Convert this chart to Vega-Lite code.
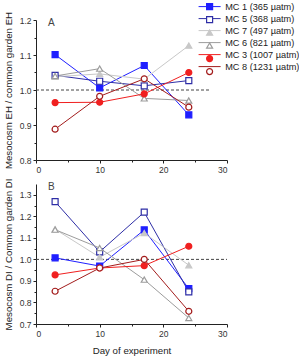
{
  "$schema": "https://vega.github.io/schema/vega-lite/v6.json",
  "autosize": {"type": "pad"},
  "padding": {"left": 3, "top": 2, "right": 0, "bottom": 0},
  "spacing": 24,
  "bounds": "flush",
  "config": {
    "view": {"stroke": null},
    "font": "Liberation Sans",
    "axis": {
      "grid": false,
      "domainColor": "#222",
      "tickColor": "#222",
      "tickSize": 3,
      "labelOverlap": false,
      "labelFont": "Liberation Sans",
      "labelFontSize": 8.5,
      "labelColor": "#333",
      "labelPadding": 2,
      "titleFont": "Liberation Sans",
      "titleFontSize": 9.7,
      "titleFontWeight": "normal",
      "titleColor": "#222"
    },
    "legend": {
      "padding": 0
    }
  },
  "vconcat": [
    {
      "width": 191,
      "height": 140,
      "resolve": {"axis": {"x": "independent", "y": "independent"}},
      "data": {"values": [
        {"series": "MC 1 (365 µatm)", "label": "MC 1 (365 µatm)", "day": 3, "value": 1.101},
        {"series": "MC 1 (365 µatm)", "label": "MC 1 (365 µatm)", "day": 10, "value": 1.006},
        {"series": "MC 1 (365 µatm)", "label": "MC 1 (365 µatm)", "day": 17, "value": 1.070},
        {"series": "MC 1 (365 µatm)", "label": "MC 1 (365 µatm)", "day": 24, "value": 0.929},
        {"series": "MC 5 (368 µatm)", "label": "MC 5 (368 µatm)", "day": 3, "value": 1.042},
        {"series": "MC 5 (368 µatm)", "label": "MC 5 (368 µatm)", "day": 10, "value": 1.025},
        {"series": "MC 5 (368 µatm)", "label": "MC 5 (368 µatm)", "day": 17, "value": 1.012},
        {"series": "MC 5 (368 µatm)", "label": "MC 5 (368 µatm)", "day": 24, "value": 1.027},
        {"series": "MC 7 (497 µatm)", "label": "MC 7 (497 µatm)", "day": 3, "value": 1.038},
        {"series": "MC 7 (497 µatm)", "label": "MC 7 (497 µatm)", "day": 10, "value": 1.046},
        {"series": "MC 7 (497 µatm)", "label": "MC 7 (497 µatm)", "day": 17, "value": 1.031},
        {"series": "MC 7 (497 µatm)", "label": "MC 7 (497 µatm)", "day": 24, "value": 1.127},
        {"series": "MC 6 (821 µatm)", "label": "MC 6 (821 µatm)", "day": 3, "value": 1.040},
        {"series": "MC 6 (821 µatm)", "label": "MC 6 (821 µatm)", "day": 10, "value": 1.061},
        {"series": "MC 6 (821 µatm)", "label": "MC 6 (821 µatm)", "day": 17, "value": 0.976},
        {"series": "MC 6 (821 µatm)", "label": "MC 6 (821 µatm)", "day": 24, "value": 0.970},
        {"series": "MC 3 (1007 µatm)", "label": "MC 3 (1007 µatm)", "day": 3, "value": 0.964},
        {"series": "MC 3 (1007 µatm)", "label": "MC 3 (1007 µatm)", "day": 10, "value": 0.965},
        {"series": "MC 3 (1007 µatm)", "label": "MC 3 (1007 µatm)", "day": 17, "value": 0.989},
        {"series": "MC 3 (1007 µatm)", "label": "MC 3 (1007 µatm)", "day": 24, "value": 1.050},
        {"series": "MC 8 (1231 µatm)", "label": "MC 8 (1231 µatm)", "day": 3, "value": 0.888},
        {"series": "MC 8 (1231 µatm)", "label": "MC 8 (1231 µatm)", "day": 10, "value": 0.982},
        {"series": "MC 8 (1231 µatm)", "label": "MC 8 (1231 µatm)", "day": 17, "value": 1.032},
        {"series": "MC 8 (1231 µatm)", "label": "MC 8 (1231 µatm)", "day": 24, "value": 0.951}
      ]},
      "layer": [
        {
          "data": {"values": [{"x": 0, "x2": 27.2, "y": 1.0}]},
          "mark": {"type": "rule", "strokeDash": [3, 2], "color": "#444", "strokeWidth": 1},
          "encoding": {
            "x": {"field": "x", "type": "quantitative", "axis": {"values": [5, 15, 25], "labels": false, "domain": false, "tickSize": 2, "title": null, "orient": "bottom"}},
            "x2": {"field": "x2"},
            "y": {"field": "y", "type": "quantitative", "axis": {"values": [0.85, 0.95, 1.05, 1.15], "labels": false, "domain": false, "tickSize": 2, "title": null, "orient": "left"}}
          }
        },
        {
          "data": {"values": [{"x": 1.9, "y": 1.191, "t": "A"}]},
          "mark": {"type": "text", "align": "left", "baseline": "middle", "fontSize": 10, "color": "#444"},
          "encoding": {
            "x": {"field": "x", "type": "quantitative", "axis": null},
            "y": {"field": "y", "type": "quantitative", "axis": null},
            "text": {"field": "t"}
          }
        },
        {
          "mark": {"type": "line", "strokeWidth": 1},
          "encoding": {
            "x": {"field": "day", "type": "quantitative", "scale": {"domain": [0, 30]}, "axis": {"values": [0, 10, 20, 30], "title": null, "orient": "bottom"}},
            "y": {"field": "value", "type": "quantitative", "scale": {"domain": [0.8, 1.2], "nice": false, "zero": false}, "axis": {"values": [0.8, 0.9, 1.0, 1.1, 1.2], "format": ".1f", "title": "Mesocosm EH / common garden EH", "titlePadding": 6, "orient": "left"}},
            "color": {
              "field": "label", "type": "nominal",
              "sort": ["MC 1 (365 µatm)", "MC 5 (368 µatm)", "MC 7 (497 µatm)", "MC 6 (821 µatm)", "MC 3 (1007 µatm)", "MC 8 (1231 µatm)"],
              "scale": {"range": ["#1f1fff", "#2e2ea6", "#c8c8c8", "#9c9c9c", "#f02020", "#a31c1c"]},
              "legend": {
                "title": null,
                "orient": "none",
                "legendX": 169,
                "legendY": -18,
                "labelFont": "Liberation Sans",
                "labelFontSize": 9.2,
                "labelColor": "#222",
                "labelOffset": 11,
                "rowPadding": 2,
                "symbolType": "M-3.67,0H3.67",
                "symbolSize": 36,
                "symbolStrokeWidth": 1
              }
            },
            "detail": {"field": "label"}
          }
        },
        {
          "mark": {"type": "point", "filled": true, "size": 36, "strokeWidth": 1.2, "opacity": 1},
          "encoding": {
            "x": {"field": "day", "type": "quantitative", "axis": null},
            "y": {"field": "value", "type": "quantitative", "axis": null},
            "shape": {
              "field": "series", "type": "nominal",
              "scale": {
                "domain": ["MC 1 (365 µatm)", "MC 5 (368 µatm)", "MC 7 (497 µatm)", "MC 6 (821 µatm)", "MC 3 (1007 µatm)", "MC 8 (1231 µatm)"],
                "range": ["square", "square", "triangle-up", "triangle-up", "circle", "circle"]
              },
              "legend": {
                "title": null, "orient": "none", "legendX": 169, "legendY": -18,
                "labelFont": "Liberation Sans", "labelFontSize": 9.2, "labelColor": "#222", "labelOpacity": 0, "labelExpr": "' '",
                "labelOffset": 11, "rowPadding": 2, "symbolSize": 36, "symbolStrokeWidth": 1.2
              }
            },
            "fill": {
              "field": "series", "type": "nominal",
              "scale": {
                "domain": ["MC 1 (365 µatm)", "MC 5 (368 µatm)", "MC 7 (497 µatm)", "MC 6 (821 µatm)", "MC 3 (1007 µatm)", "MC 8 (1231 µatm)"],
                "range": ["#1f1fff", "#ffffff", "#c8c8c8", "#ffffff", "#f02020", "#ffffff"]
              },
              "legend": {
                "title": null, "orient": "none", "legendX": 169, "legendY": -18,
                "labelFont": "Liberation Sans", "labelFontSize": 9.2, "labelColor": "#222", "labelOpacity": 0, "labelExpr": "' '",
                "labelOffset": 11, "rowPadding": 2, "symbolSize": 36, "symbolStrokeWidth": 1.2
              }
            },
            "stroke": {
              "field": "series", "type": "nominal",
              "scale": {
                "domain": ["MC 1 (365 µatm)", "MC 5 (368 µatm)", "MC 7 (497 µatm)", "MC 6 (821 µatm)", "MC 3 (1007 µatm)", "MC 8 (1231 µatm)"],
                "range": ["#1f1fff", "#2e2ea6", "#c8c8c8", "#9c9c9c", "#f02020", "#a31c1c"]
              },
              "legend": {
                "title": null, "orient": "none", "legendX": 169, "legendY": -18,
                "labelFont": "Liberation Sans", "labelFontSize": 9.2, "labelColor": "#222", "labelOpacity": 0, "labelExpr": "' '",
                "labelOffset": 11, "rowPadding": 2, "symbolSize": 36, "symbolStrokeWidth": 1.2
              }
            }
          }
        }
      ]
    },
    {
      "width": 191,
      "height": 140,
      "resolve": {"axis": {"x": "independent", "y": "independent"}},
      "data": {"values": [
        {"series": "MC 1 (365 µatm)", "label": "MC 1 (365 µatm)", "day": 3, "value": 1.007},
        {"series": "MC 1 (365 µatm)", "label": "MC 1 (365 µatm)", "day": 10, "value": 0.969},
        {"series": "MC 1 (365 µatm)", "label": "MC 1 (365 µatm)", "day": 17, "value": 1.137},
        {"series": "MC 1 (365 µatm)", "label": "MC 1 (365 µatm)", "day": 24, "value": 0.864},
        {"series": "MC 5 (368 µatm)", "label": "MC 5 (368 µatm)", "day": 3, "value": 1.268},
        {"series": "MC 5 (368 µatm)", "label": "MC 5 (368 µatm)", "day": 10, "value": 1.035},
        {"series": "MC 5 (368 µatm)", "label": "MC 5 (368 µatm)", "day": 17, "value": 1.219},
        {"series": "MC 5 (368 µatm)", "label": "MC 5 (368 µatm)", "day": 24, "value": 0.849},
        {"series": "MC 7 (497 µatm)", "label": "MC 7 (497 µatm)", "day": 3, "value": 1.140},
        {"series": "MC 7 (497 µatm)", "label": "MC 7 (497 µatm)", "day": 10, "value": 1.010},
        {"series": "MC 7 (497 µatm)", "label": "MC 7 (497 µatm)", "day": 17, "value": 1.122},
        {"series": "MC 7 (497 µatm)", "label": "MC 7 (497 µatm)", "day": 24, "value": 0.973},
        {"series": "MC 6 (821 µatm)", "label": "MC 6 (821 µatm)", "day": 3, "value": 1.138},
        {"series": "MC 6 (821 µatm)", "label": "MC 6 (821 µatm)", "day": 10, "value": 1.053},
        {"series": "MC 6 (821 µatm)", "label": "MC 6 (821 µatm)", "day": 17, "value": 0.906},
        {"series": "MC 6 (821 µatm)", "label": "MC 6 (821 µatm)", "day": 24, "value": 0.728},
        {"series": "MC 3 (1007 µatm)", "label": "MC 3 (1007 µatm)", "day": 3, "value": 0.928},
        {"series": "MC 3 (1007 µatm)", "label": "MC 3 (1007 µatm)", "day": 10, "value": 0.960},
        {"series": "MC 3 (1007 µatm)", "label": "MC 3 (1007 µatm)", "day": 17, "value": 0.971},
        {"series": "MC 3 (1007 µatm)", "label": "MC 3 (1007 µatm)", "day": 24, "value": 1.061},
        {"series": "MC 8 (1231 µatm)", "label": "MC 8 (1231 µatm)", "day": 3, "value": 0.852},
        {"series": "MC 8 (1231 µatm)", "label": "MC 8 (1231 µatm)", "day": 10, "value": 0.960},
        {"series": "MC 8 (1231 µatm)", "label": "MC 8 (1231 µatm)", "day": 17, "value": 1.000},
        {"series": "MC 8 (1231 µatm)", "label": "MC 8 (1231 µatm)", "day": 24, "value": 0.759}
      ]},
      "layer": [
        {
          "data": {"values": [{"x": 0, "x2": 30, "y": 1.0}]},
          "mark": {"type": "rule", "strokeDash": [3, 2], "color": "#444", "strokeWidth": 1},
          "encoding": {
            "x": {"field": "x", "type": "quantitative", "axis": {"values": [5, 15, 25], "labels": false, "domain": false, "tickSize": 2, "title": null, "orient": "bottom"}},
            "x2": {"field": "x2"},
            "y": {"field": "y", "type": "quantitative", "axis": {"values": [0.75, 0.85, 0.95, 1.05, 1.15, 1.25], "labels": false, "domain": false, "tickSize": 2, "title": null, "orient": "left"}}
          }
        },
        {
          "data": {"values": [{"x": 1.9, "y": 1.337, "t": "B"}]},
          "mark": {"type": "text", "align": "left", "baseline": "middle", "fontSize": 10, "color": "#444"},
          "encoding": {
            "x": {"field": "x", "type": "quantitative", "axis": null},
            "y": {"field": "y", "type": "quantitative", "axis": null},
            "text": {"field": "t"}
          }
        },
        {
          "mark": {"type": "line", "strokeWidth": 1},
          "encoding": {
            "x": {"field": "day", "type": "quantitative", "scale": {"domain": [0, 30]}, "axis": {"values": [0, 10, 20, 30], "title": "Day of experiment", "titlePadding": 8, "orient": "bottom"}},
            "y": {"field": "value", "type": "quantitative", "scale": {"domain": [0.7, 1.35], "nice": false, "zero": false}, "axis": {"values": [0.7, 0.8, 0.9, 1.0, 1.1, 1.2, 1.3], "format": ".1f", "title": "Mesocosm DI / Common garden DI", "titlePadding": 6, "orient": "left"}},
            "color": {
              "field": "label", "type": "nominal",
              "sort": ["MC 1 (365 µatm)", "MC 5 (368 µatm)", "MC 7 (497 µatm)", "MC 6 (821 µatm)", "MC 3 (1007 µatm)", "MC 8 (1231 µatm)"]
            },
            "detail": {"field": "label"}
          }
        },
        {
          "mark": {"type": "point", "filled": true, "size": 36, "strokeWidth": 1.2, "opacity": 1},
          "encoding": {
            "x": {"field": "day", "type": "quantitative", "axis": null},
            "y": {"field": "value", "type": "quantitative", "axis": null},
            "shape": {"field": "series", "type": "nominal"},
            "fill": {"field": "series", "type": "nominal"},
            "stroke": {"field": "series", "type": "nominal"}
          }
        }
      ]
    }
  ]
}
